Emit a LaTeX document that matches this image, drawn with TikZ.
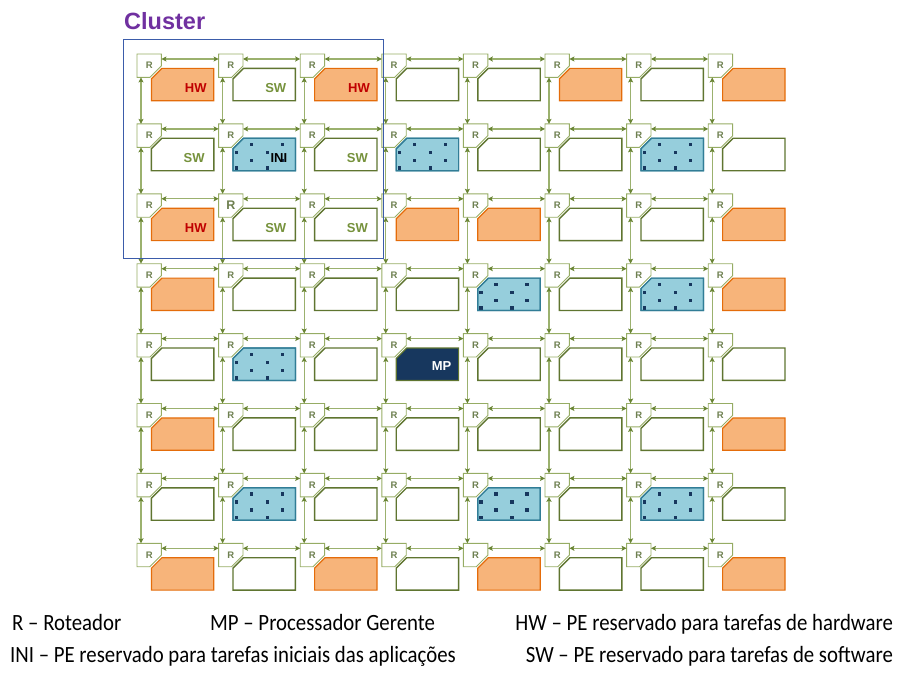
\documentclass[tikz,border=0pt]{standalone}
\usepackage{fontspec}
\setmainfont{Liberation Sans}
\newfontfamily\legendfont[Ligatures=TeX]{Carlito}
\usepackage{tikz}
\usetikzlibrary{positioning,arrows.meta}
\usepackage{xcolor}

\definecolor{rgreen}{RGB}{150,172,100}
\definecolor{rtext}{RGB}{110,128,80}
\definecolor{pgreen}{RGB}{95,117,48}
\definecolor{lgreen}{RGB}{155,177,110}
\definecolor{tgreen}{RGB}{105,132,52}
\definecolor{swgreen}{RGB}{118,146,60}
\definecolor{hwred}{RGB}{192,0,0}
\definecolor{orfill}{RGB}{247,180,122}
\definecolor{ordraw}{RGB}{228,108,10}
\definecolor{blfill}{RGB}{150,206,220}
\definecolor{bldraw}{RGB}{49,125,150}
\definecolor{navy}{RGB}{23,55,94}
\definecolor{clblue}{RGB}{59,92,170}
\definecolor{clpurple}{RGB}{112,48,160}

% outlines with the cut corners
\newcommand{\peshape}[1]{([yshift=-10.5pt]#1.north west) -- ([xshift=10.5pt]#1.north west) -- (#1.north east) -- (#1.south east) -- (#1.south west) -- cycle}
\newcommand{\rtshape}[1]{(#1.north west) -- (#1.north east) -- ([yshift=11.5pt]#1.south east) -- ([xshift=-11.5pt]#1.south east) -- (#1.south west) -- cycle}
\newcommand{\pedots}[1]{%
  \begin{scope}
    \clip \peshape{#1};
    \foreach \dx/\dy in {16.5/4.5,47.5/4.5,1.5/12.5,32.5/12.5,16.5/20.5,47.5/20.5,1.5/28,32.5/28}
      \fill[navy] ([shift={(\dx pt,-\dy pt)}]#1.north west) rectangle +(3.5pt,-3.5pt);
  \end{scope}
  \draw[draw=bldraw, line width=1.2pt] \peshape{#1};}

\begin{document}
\begin{tikzpicture}[%
    x=1pt, y=-1pt,
    router/.style={%
      rectangle,
      minimum width=24pt,
      minimum height=23pt,
      inner sep=0pt,
      anchor=north west,
      text=rtext,
      font=\bfseries\fontsize{\rsize}{\rsize}\selectfont
    },
    rtline/.style={draw=rgreen, line width=0.9pt},
    pe/.style={rectangle, minimum width=62pt, minimum height=32pt, inner sep=0pt},
    pe-h/.style={fill=orfill, draw=ordraw, line width=1.2pt},
    pe-o/.style={pe-h},
    pe-s/.style={fill=white, draw=pgreen, line width=1.4pt},
    pe-w/.style={pe-s},
    pe-b/.style={fill=blfill, draw=bldraw, line width=1.2pt},
    pe-i/.style={pe-b},
    pe-m/.style={fill=navy, draw=pgreen, line width=1.2pt},
    tag/.style={anchor=east, inner sep=0pt, font=\bfseries\fontsize{13}{13}\selectfont},
    link/.style={%
      draw=lgreen,
      line width=1.3pt,
      <->,
      >={Stealth[length=5pt,width=5pt,inset=1pt,color=tgreen]}
    },
    legend/.style={inner sep=0pt, yscale=1.12, transform shape, font=\legendfont\fontsize{20.8}{24}\selectfont}
  ]
    \useasboundingbox (0,0) rectangle (898,677);

    \foreach \j/\row in {0/{h,s,h,w,w,o,w,o},1/{s,i,s,b,w,w,b,w},2/{h,s,s,o,o,w,w,o},3/{o,w,w,w,b,w,b,o},
                         4/{w,b,w,m,w,w,w,w},5/{o,w,w,w,w,w,w,o},6/{w,b,w,w,b,w,b,w},7/{o,w,o,w,o,w,w,o}} {
      \foreach \t [count=\i from 0] in \row {
        \def\rsize{9.5}\ifnum\i\j=12 \def\rsize{12.5}\fi
        \node[router] (r-\i-\j) at (137+81.6*\i, 54+69.9*\j) {R};
        \draw[rtline] \rtshape{r-\i-\j};
        \node[pe, below right=-9pt and -10pt of r-\i-\j] (p-\i-\j) {};
        \path[pe-\t] \peshape{p-\i-\j};
        \if\t b \pedots{p-\i-\j}\fi
        \if\t i \pedots{p-\i-\j}
          \node[tag, text=black] (t-\i-\j) at ([xshift=-8pt,yshift=-3.5pt]p-\i-\j.east) {INI};\fi
        \if\t h \node[tag, text=hwred] (t-\i-\j) at ([xshift=-7pt,yshift=-3.5pt]p-\i-\j.east) {HW};\fi
        \if\t s \node[tag, text=swgreen] (t-\i-\j) at ([xshift=-9pt,yshift=-3.5pt]p-\i-\j.east) {SW};\fi
        \if\t m \node[tag, text=white] (t-\i-\j) at ([xshift=-7pt,yshift=-2pt]p-\i-\j.east) {MP};\fi
      }
    }

    % links between neighbouring routers
    \foreach \j in {0,...,7} {
      \foreach \i [remember=\i as \p (initially 0)] in {1,...,7} {
        \draw[link] ([yshift=-5pt]r-\p-\j.north east) -- ([yshift=-5pt]r-\i-\j.north west);
        \draw[link] ([xshift=4pt]r-\j-\p.south west) -- ([xshift=4pt]r-\j-\i.north west);
      }
    }

    \draw[draw=clblue, line width=1.3pt] (123.5,39.5) rectangle (383.5,258.3);
    \node[anchor=base west, inner sep=0pt, text=clpurple, font=\bfseries\fontsize{23.5}{23.5}\selectfont]
      (cluster) at (124,30) {Cluster};

    \node[legend, anchor=base west] (l-r)   at (12,630)  {R – Roteador};
    \node[legend, anchor=base west] (l-mp)  at (210,630) {MP – Processador Gerente};
    \node[legend, anchor=base east] (l-hw)  at (893,630) {HW – PE reservado para tarefas de hardware};
    \node[legend, anchor=base west] (l-ini) at (10,662)  {INI – PE reservado para tarefas iniciais das aplicações};
    \node[legend, anchor=base east] (l-sw)  at (893,662) {SW – PE reservado para tarefas de software};
  \end{tikzpicture}
\end{document}
